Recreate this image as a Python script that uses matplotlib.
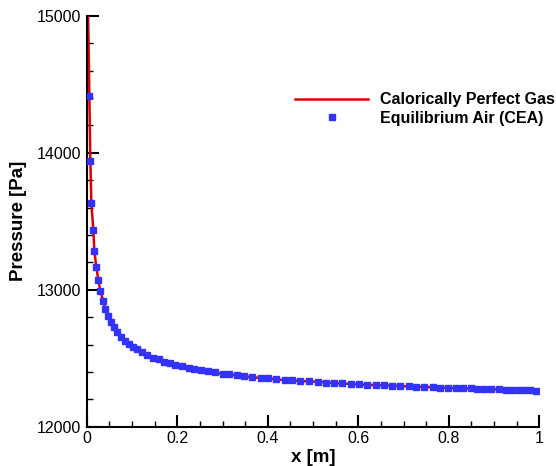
import matplotlib
matplotlib.use("Agg")
import matplotlib.pyplot as plt
from matplotlib.ticker import MultipleLocator

plt.rcParams['font.family'] = ['Liberation Sans', 'DejaVu Sans']

# Equilibrium Air (CEA) markers
x_cea = [0.0058, 0.0080, 0.0102, 0.0146, 0.0168, 0.0212, 0.0256, 0.0300, 0.0367, 0.0410,
         0.0477, 0.0544, 0.0610, 0.0676, 0.0765, 0.0853, 0.0941, 0.1030, 0.1120, 0.1230,
         0.1340, 0.1475, 0.1586, 0.1697, 0.1830, 0.1960, 0.2095, 0.2250, 0.2380, 0.2530,
         0.2680, 0.2840, 0.3000, 0.3150, 0.3330, 0.3480, 0.3660, 0.3840, 0.4010, 0.4190,
         0.4370, 0.4540, 0.4720, 0.4920, 0.5100, 0.5290, 0.5470, 0.5650, 0.5850, 0.6020,
         0.6200, 0.6390, 0.6570, 0.6750, 0.6930, 0.7110, 0.7280, 0.7460, 0.7640, 0.7810,
         0.7990, 0.8150, 0.8320, 0.8480, 0.8630, 0.8780, 0.8940, 0.9100, 0.9260, 0.9400,
         0.9540, 0.9670, 0.9800, 0.9930]
p_cea = [14412, 13937, 13631, 13436, 13283, 13166, 13071, 12991, 12915, 12859,
         12808, 12762, 12725, 12689, 12654, 12627, 12603, 12579, 12564, 12542,
         12520, 12505, 12493, 12476, 12466, 12454, 12442, 12432, 12420, 12412,
         12404, 12397, 12386, 12382, 12375, 12368, 12361, 12354, 12352, 12346,
         12340, 12338, 12334, 12333, 12328, 12322, 12319, 12317, 12312, 12311,
         12305, 12304, 12302, 12298, 12297, 12296, 12291, 12290, 12289, 12284,
         12283, 12282, 12281, 12280, 12276, 12275, 12274, 12273, 12269, 12268,
         12267, 12266, 12265, 12261]

# Calorically Perfect Gas line
x_cpg = [0.0030, 0.0045, 0.0058, 0.0080, 0.0102, 0.0146, 0.0168, 0.0212, 0.0256, 0.0300,
         0.0367, 0.0410, 0.0477, 0.0544, 0.0610, 0.0676, 0.0765, 0.0853, 0.0941, 0.1030,
         0.1120, 0.1230, 0.1340, 0.1475, 0.1586, 0.1697, 0.1830, 0.1960, 0.2095, 0.2250,
         0.2380, 0.2680, 0.3000, 0.3330, 0.3660, 0.4010, 0.4370, 0.4720, 0.5100, 0.5470,
         0.5850, 0.6200, 0.6570, 0.6930, 0.7280, 0.7640, 0.7990, 0.8320, 0.8630, 0.8940,
         0.9260, 0.9540, 0.9800, 0.9930]
p_cpg = [15000, 14700, 14412, 13937, 13631, 13436, 13283, 13166, 13071, 12991,
         12915, 12859, 12808, 12762, 12725, 12689, 12654, 12627, 12603, 12579,
         12564, 12542, 12520, 12505, 12493, 12476, 12466, 12454, 12442, 12432,
         12420, 12404, 12386, 12375, 12361, 12352, 12340, 12334, 12328, 12319,
         12312, 12305, 12302, 12297, 12291, 12289, 12283, 12281, 12276, 12274,
         12269, 12267, 12265, 12261]

x_ticks = [0, 0.2, 0.4, 0.6, 0.8, 1]
x_ticklabels = ['0', '0.2', '0.4', '0.6', '0.8', '1']
y_ticks = [12000, 13000, 14000, 15000]
y_ticklabels = ['12000', '13000', '14000', '15000']

fig = plt.figure(figsize=(5.56, 4.66), dpi=100)
ax = fig.add_axes([0.156, 0.0843, 0.814, 0.8820])

ax.plot(x_cpg, p_cpg, color='#dd0000', lw=1.8, label='Calorically Perfect Gas', zorder=2)
ax.plot(x_cea, p_cea, ls='none', marker='s', ms=4.5, mfc='#3333ff', mec='#3333ff',
        label='Equilibrium Air (CEA)', zorder=3)

ax.set_xlim(0, 1)
ax.set_ylim(12000, 15000)
ax.set_xticks(x_ticks)
ax.set_xticklabels(x_ticklabels)
ax.set_yticks(y_ticks)
ax.set_yticklabels(y_ticklabels)
ax.xaxis.set_minor_locator(MultipleLocator(0.05))
ax.yaxis.set_minor_locator(MultipleLocator(200))

for s in ['top', 'right']:
    ax.spines[s].set_visible(False)
for s in ['left', 'bottom']:
    ax.spines[s].set_linewidth(1.5)

ax.tick_params(which='major', direction='in', length=8.5, width=1.5, labelsize=11.5, pad=3)
ax.tick_params(which='minor', direction='in', length=4.3, width=1.0)
ax.tick_params(axis='y', which='major', pad=4)

ax.set_xlabel('x [m]', fontsize=13.5, fontweight='bold', labelpad=2)
ax.set_ylabel('Pressure [Pa]', fontsize=13.5, fontweight='bold', labelpad=7)

leg = ax.legend(loc='upper left', bbox_to_anchor=(0.5306, 0.802), bbox_transform=fig.transFigure,
                frameon=False, handlelength=4.6, handletextpad=0.75, labelspacing=0.22,
                prop={'weight': 'bold', 'size': 11.5}, borderaxespad=0, borderpad=0)

fig.savefig('out.png', dpi=100)
